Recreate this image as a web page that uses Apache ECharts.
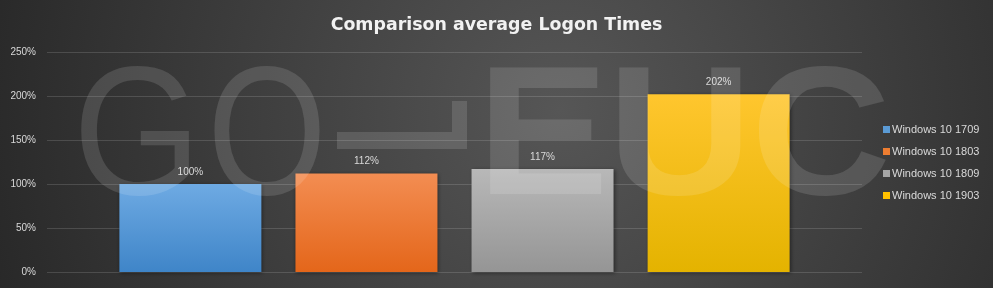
<!DOCTYPE html>
<html>
<head>
<meta charset="utf-8">
<script src="https://cdn.jsdelivr.net/npm/echarts@6/dist/echarts.min.js"></script>
<style>
html,body{margin:0;padding:0;background:#333;}
#chart{width:993px;height:288px;}
</style>
</head>
<body>
<div id="chart"></div>
<script>
const categories = ['Windows 10 1709', 'Windows 10 1803', 'Windows 10 1809', 'Windows 10 1903'];
const values = [100, 112, 117, 202];
const yTickMax = 250;
const yTickStep = 50;
const titleText = 'Comparison average Logon Times';
const watermarkLetters = ['G', 'O', 'E', 'U', 'C'];

const gradients = [
  ['#6eaae3', '#3f85c8'],
  ['#f38d52', '#e4661a'],
  ['#b8b8b8', '#959595'],
  ['#ffc62e', '#e4b300']
];
const legendColors = ['#5b9bd5', '#ed7d31', '#a5a5a5', '#ffc000'];

function vGrad(c) {
  return { type: 'linear', x: 0, y: 0, x2: 0, y2: 1,
    colorStops: [{ offset: 0, color: c[0] }, { offset: 1, color: c[1] }] };
}

const chart = echarts.init(document.getElementById('chart'));
const wmFill = 'rgba(255,255,255,0.13)';
const wmThin = { fontFamily: 'Liberation Sans', fontSize: 183, fontWeight: 'normal' };
const wmBold = { fontFamily: 'Liberation Sans', fontSize: 183, fontWeight: 'bold' };
function wm(ch, cx, sx, f) {
  return { type: 'text', x: cx, y: 144, scaleX: sx, z: 100, silent: true,
    style: { text: ch, x: 0, y: 0, fill: wmFill, align: 'center', verticalAlign: 'middle',
      font: f.fontWeight + ' ' + f.fontSize + 'px "' + f.fontFamily + '"' } };
}

const option = {
  animation: false,
  title: {
    text: titleText, left: 'center', top: 12,
    textStyle: { color: '#f2f2f2', fontSize: 17.4, fontWeight: 'bold', fontFamily: 'DejaVu Sans' }
  },
  graphic: [
    { type: 'rect', z: -100, silent: true, shape: { x: 0, y: 0, width: 993, height: 288 },
      style: { fill: { type: 'radial', x: 560, y: 110, r: 620, global: true,
        colorStops: [{ offset: 0, color: '#565656' }, { offset: 1, color: '#262626' }] } } },
    wm(watermarkLetters[0], 137, 0.9, wmThin),
    wm(watermarkLetters[1], 267, 0.84, wmThin),
    { type: 'polygon', z: 100, silent: true,
      shape: { points: [[337,132],[452,132],[452,101],[467,101],[467,149],[337,149]] },
      style: { fill: wmFill } },
    wm(watermarkLetters[2], 543, 1.08, wmBold),
    wm(watermarkLetters[3], 680, 1.1, wmBold),
    wm(watermarkLetters[4], 821, 1.06, wmBold)
  ],
  legend: {
    orient: 'vertical', left: 878, top: 119, itemWidth: 7, itemHeight: 7, itemGap: 11,
    icon: 'rect',
    textStyle: { color: '#d9d9d9', fontSize: 11, fontFamily: 'Liberation Sans', padding: [0, 0, 0, -3] },
    data: categories.map((c, i) => ({ name: c, itemStyle: { color: legendColors[i] } }))
  },
  grid: { left: 47, right: 131, top: 52, bottom: 16, containLabel: false },
  xAxis: {
    type: 'category', data: [''],
    axisLine: { show: false }, axisTick: { show: false }, axisLabel: { show: false }
  },
  yAxis: {
    type: 'value', min: 0, max: yTickMax, interval: yTickStep,
    axisLine: { show: false }, axisTick: { show: false },
    axisLabel: { color: '#d9d9d9', fontSize: 10, fontFamily: 'Liberation Sans', margin: 11,
      formatter: v => v + '%' },
    splitLine: { lineStyle: { color: 'rgba(255,255,255,0.14)', width: 1 } }
  },
  series: categories.map((c, i) => ({
    name: c, type: 'bar', data: [values[i]], barWidth: 142, barGap: '24%',
    itemStyle: { color: vGrad(gradients[i]), shadowColor: 'rgba(0,0,0,0.45)', shadowBlur: 4,
      shadowOffsetX: 1, shadowOffsetY: 1 },
    label: { show: true, position: 'top', distance: 7, color: '#d9d9d9', fontSize: 10,
      fontFamily: 'Liberation Sans', formatter: p => p.value + '%' }
  }))
};
chart.setOption(option);
</script>
</body>
</html>
